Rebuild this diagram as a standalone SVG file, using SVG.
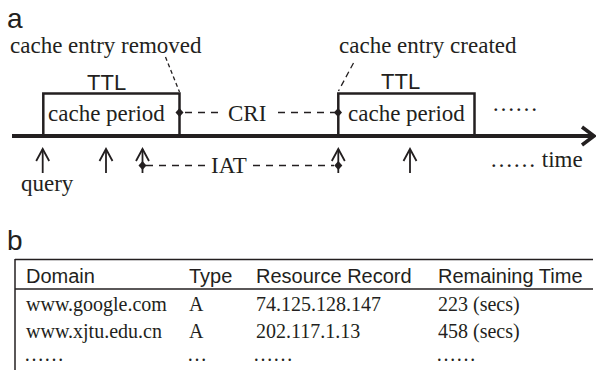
<svg xmlns="http://www.w3.org/2000/svg" width="596" height="370" viewBox="0 0 596 370">
<style>
.serif{font-family:"Liberation Serif","Times New Roman",serif;fill:#231f20}
.sans{font-family:"Liberation Sans",Arial,sans-serif;fill:#231f20}
.s23{font-size:23px}
.s20{font-size:20px}
.box{fill:none;stroke:#231f20;stroke-width:2.5}
.thin{stroke:#231f20;stroke-width:1.3;fill:none}
.dash{stroke:#231f20;stroke-width:1.4;fill:none;stroke-dasharray:7 6}
.arrow{stroke:#231f20;stroke-width:1.8;fill:none}
.dia{fill:#231f20}
.tline{stroke:#231f20;stroke-width:1.6;fill:none}
</style>
<defs>
<g id="up">
<line x1="0" y1="149" x2="0" y2="173" class="arrow"/>
<polyline points="-6.5,161 0,149 6.5,161" class="arrow"/>
</g>
<path id="dm" d="M0,-4.5 L4,0 L0,4.5 L-4,0 Z" class="dia"/>
</defs>

<g id="panel-a-label"><text x="7" y="28" class="sans" font-size="28">a</text></g>
<g id="panel-b-label"><text x="7" y="250" class="sans" font-size="28">b</text></g>

<g id="connectors">
<line x1="12" y1="136" x2="592" y2="136" stroke="#231f20" stroke-width="4"/>
<polyline points="582,127 594,136 582,145" fill="none" stroke="#231f20" stroke-width="3.5"/>
<line x1="165.5" y1="57" x2="179.5" y2="92" class="thin" stroke-dasharray="4 3"/>
<line x1="353.5" y1="63" x2="338.5" y2="91" class="thin" stroke-dasharray="6 4"/>
<line x1="185" y1="112.5" x2="224" y2="112.5" class="dash"/>
<line x1="278" y1="112.5" x2="336" y2="112.5" class="dash"/>
<line x1="146" y1="165.5" x2="208" y2="165.5" class="dash" stroke-dasharray="6 5"/>
<line x1="253" y1="165.5" x2="334" y2="165.5" class="dash" stroke-dasharray="6 5"/>
<use href="#up" x="42.7"/>
<use href="#up" x="106"/>
<use href="#up" x="142.5"/>
<use href="#up" x="338.3"/>
<use href="#up" x="410"/>
<use href="#dm" x="179.5" y="112.5"/>
<use href="#dm" x="338" y="112.5"/>
<use href="#dm" x="142.5" y="165.5"/>
<use href="#dm" x="338.3" y="165.5"/>
</g>

<g id="cache1">
<polyline points="43.3,136 43.3,93.5 179.5,93.5 179.5,136" class="box"/>
<text x="87" y="89.5" class="sans" font-size="22">TTL</text>
<text x="48" y="121" class="serif s23">cache period</text>
</g>
<g id="cache2">
<polyline points="338.3,136 338.3,93.5 474.5,93.5 474.5,136" class="box"/>
<text x="381" y="89" class="sans" font-size="22">TTL</text>
<text x="348" y="121" class="serif s23">cache period</text>
</g>
<g id="removed-label"><text x="10" y="53" class="serif s23">cache entry removed</text></g>
<g id="created-label"><text x="339" y="53" class="serif s23">cache entry created</text></g>
<g id="cri-label"><text x="228" y="121" class="serif s23">CRI</text></g>
<g id="iat-label"><text x="211" y="173" class="serif s23">IAT</text></g>
<g id="query-label"><text x="21" y="191" class="serif s23" font-size="22">query</text></g>
<g id="dots-top"><text x="492" y="111" class="serif s23">……</text></g>
<g id="time-label"><text x="490" y="167" class="serif s23">…… time</text></g>

<g id="table">
<line x1="15" y1="259.5" x2="593" y2="259.5" stroke="#231f20" stroke-width="1.5"/>
<line x1="15" y1="289" x2="593" y2="289" stroke="#231f20" stroke-width="1.5"/>
<line x1="15" y1="259" x2="15" y2="370" stroke="#231f20" stroke-width="1.5"/>
<text x="26" y="283" class="sans s20">Domain</text>
<text x="189" y="283" class="sans s20">Type</text>
<text x="256" y="283" class="sans s20">Resource Record</text>
<text x="438" y="283" class="sans s20">Remaining Time</text>
<text x="26" y="311" class="serif s20">www.google.com</text>
<text x="189" y="311" class="serif s20">A</text>
<text x="256" y="311" class="serif s20">74.125.128.147</text>
<text x="438" y="311" class="serif s20">223 (secs)</text>
<text x="26" y="338" class="serif s20">www.xjtu.edu.cn</text>
<text x="189" y="338" class="serif s20">A</text>
<text x="256" y="338" class="serif s20">202.117.1.13</text>
<text x="438" y="338" class="serif s20">458 (secs)</text>
<text x="24" y="361" class="serif s20">……</text>
<text x="187" y="361" class="serif s20">…</text>
<text x="253" y="361" class="serif s20">……</text>
<text x="436" y="361" class="serif s20">……</text>
</g>
</svg>
